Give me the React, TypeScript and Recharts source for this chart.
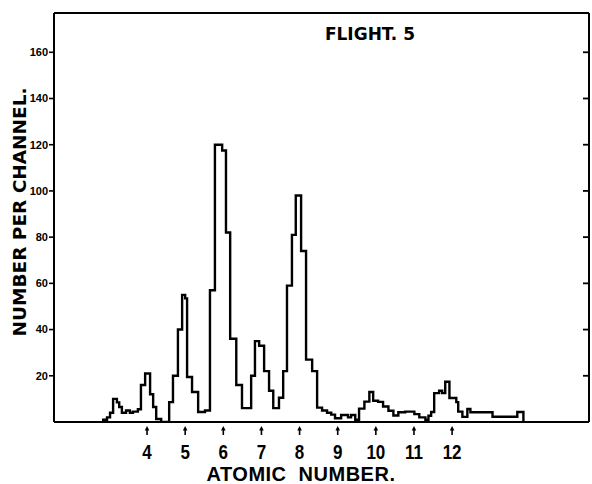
import React from 'react';
import { LineChart, Line, XAxis, YAxis, Label } from 'recharts';

// Channel start positions (in atomic-number units) and counts per channel
const binStart = [2.85, 2.95, 3.03, 3.11, 3.21, 3.27, 3.34, 3.45, 3.55, 3.63, 3.76, 3.84, 3.95, 4.08, 4.16, 4.24, 4.37, 4.58, 4.68, 4.81, 4.92, 5.0, 5.05, 5.18, 5.34, 5.52, 5.65, 5.78, 5.97, 6.07, 6.18, 6.34, 6.49, 6.73, 6.83, 6.94, 7.07, 7.2, 7.31, 7.46, 7.57, 7.67, 7.8, 7.9, 8.04, 8.17, 8.33, 8.46, 8.59, 8.72, 8.83, 8.93, 9.09, 9.27, 9.35, 9.46, 9.56, 9.7, 9.83, 9.93, 10.06, 10.19, 10.33, 10.46, 10.59, 10.77, 11.01, 11.14, 11.3, 11.38, 11.45, 11.53, 11.66, 11.74, 11.82, 11.93, 12.11, 12.16, 12.27, 12.4, 12.48, 13.06, 13.71];
const counts = [1, 2, 4, 10, 8.5, 6.5, 4, 5, 4, 4.5, 5.5, 16, 21, 12, 6.5, 1.3, 0, 8.6, 20, 40, 55, 53.5, 19.5, 13, 4.3, 5, 57, 120, 117.5, 82, 36, 16, 6, 20, 35, 33, 22, 13.5, 6, 10.5, 22, 59, 81, 98, 74, 27, 22, 6.2, 5, 4, 3.2, 1.6, 3, 2, 3, 1, 5.8, 8.8, 13, 9.2, 8.7, 6.7, 4.9, 2.8, 4.2, 4.5, 3.4, 2, 1, 2.7, 4.3, 12.5, 13.5, 12.5, 17.4, 10.4, 8.6, 4.5, 2.2, 5.6, 4.2, 2.3, 4.3];
const lastEdge = 13.87;

const atomicTicks = [4, 5, 6, 7, 8, 9, 10, 11, 12];
const yTicks = [20, 40, 60, 80, 100, 120, 140, 160];

const titleText = 'FLIGHT. 5';
const xTitle = 'ATOMIC NUMBER.';
const yTitle = 'NUMBER PER CHANNEL.';

const data = [
  { z: binStart[0], n: 0 },
  ...binStart.map((z, i) => ({ z, n: counts[i] })),
  { z: lastEdge, n: 0 },
];

const X_DOMAIN: [number, number] = [1.56, 15.59];
const Y_DOMAIN: [number, number] = [0, 177];

const sans = '"Liberation Sans", Arial, sans-serif';
const wide = '"DejaVu Sans", "Liberation Sans", sans-serif';

const ArrowTick = (props: any) => {
  const { x, y, payload } = props;
  return (
    <g>
      <line x1={x} y1={y + 6} x2={x} y2={y + 13} stroke="#000" strokeWidth={1.6} />
      <path d={`M${x - 2.3},${y + 8.5} L${x},${y + 4} L${x + 2.3},${y + 8.5} Z`} fill="#000" />
      <text
        x={0}
        y={0}
        transform={`translate(${x},${y + 37}) scale(0.85,1)`}
        textAnchor="middle"
        fontFamily={sans}
        fontWeight="bold"
        fontSize={20}
        fill="#000"
      >
        {payload.value}
      </text>
    </g>
  );
};

const InnerTick = (props: any) => {
  const { x, y } = props;
  return <line x1={x - 6} y1={y} x2={x} y2={y} stroke="#000" strokeWidth={1.8} />;
};

export default function App() {
  return (
    <div style={{ position: 'absolute', left: 0, top: 0, background: '#fff' }}>
      <LineChart width={592} height={484} data={data} margin={{ top: 0, right: 0, bottom: 0, left: 0 }}>
        <XAxis
          dataKey="z"
          type="number"
          domain={X_DOMAIN}
          allowDataOverflow
          ticks={atomicTicks}
          interval={0}
          height={62}
          axisLine={{ stroke: '#000', strokeWidth: 2 }}
          tickLine={false}
          tickSize={0}
          tickMargin={0}
          tick={<ArrowTick />}
        >
          <Label
            content={() => (
              <text
                x={301}
                y={481}
                textAnchor="middle"
                fontFamily={sans}
                fontWeight="bold"
                fontSize={20}
                letterSpacing={0.5}
                wordSpacing={6}
                fill="#000"
              >
                {xTitle}
              </text>
            )}
          />
        </XAxis>
        <XAxis
          xAxisId="top"
          orientation="top"
          type="number"
          domain={X_DOMAIN}
          allowDataOverflow
          height={13}
          tick={false}
          tickLine={false}
          axisLine={{ stroke: '#000', strokeWidth: 2 }}
        >
          <Label
            content={() => (
              <text x={370} y={40} textAnchor="middle" fontFamily={wide} fontWeight="bold" fontSize={17} fill="#000">
                {titleText}
              </text>
            )}
          />
        </XAxis>
        <YAxis
          type="number"
          domain={Y_DOMAIN}
          allowDataOverflow
          ticks={yTicks}
          interval={0}
          width={54}
          axisLine={{ stroke: '#000', strokeWidth: 2 }}
          tickLine={{ stroke: '#000', strokeWidth: 1.6 }}
          tickSize={5}
          tickMargin={1}
          tick={{ fill: '#000', fontSize: 11, fontWeight: 'bold', fontFamily: sans }}
        >
          <Label
            content={() => (
              <text
                x={0}
                y={0}
                transform="translate(26,212) rotate(-90)"
                textAnchor="middle"
                fontFamily={wide}
                fontWeight="bold"
                fontSize={18.5}
                fill="#000"
              >
                {yTitle}
              </text>
            )}
          />
        </YAxis>
        <YAxis
          yAxisId="right"
          orientation="right"
          type="number"
          domain={Y_DOMAIN}
          allowDataOverflow
          ticks={yTicks}
          interval={0}
          width={3}
          axisLine={{ stroke: '#000', strokeWidth: 2 }}
          tickLine={false}
          tickSize={0}
          tickMargin={0}
          tick={<InnerTick />}
        />
        <Line
          type="stepAfter"
          dataKey="n"
          stroke="#000"
          strokeWidth={2.4}
          dot={false}
          activeDot={false}
          isAnimationActive={false}
        />
      </LineChart>
    </div>
  );
}
